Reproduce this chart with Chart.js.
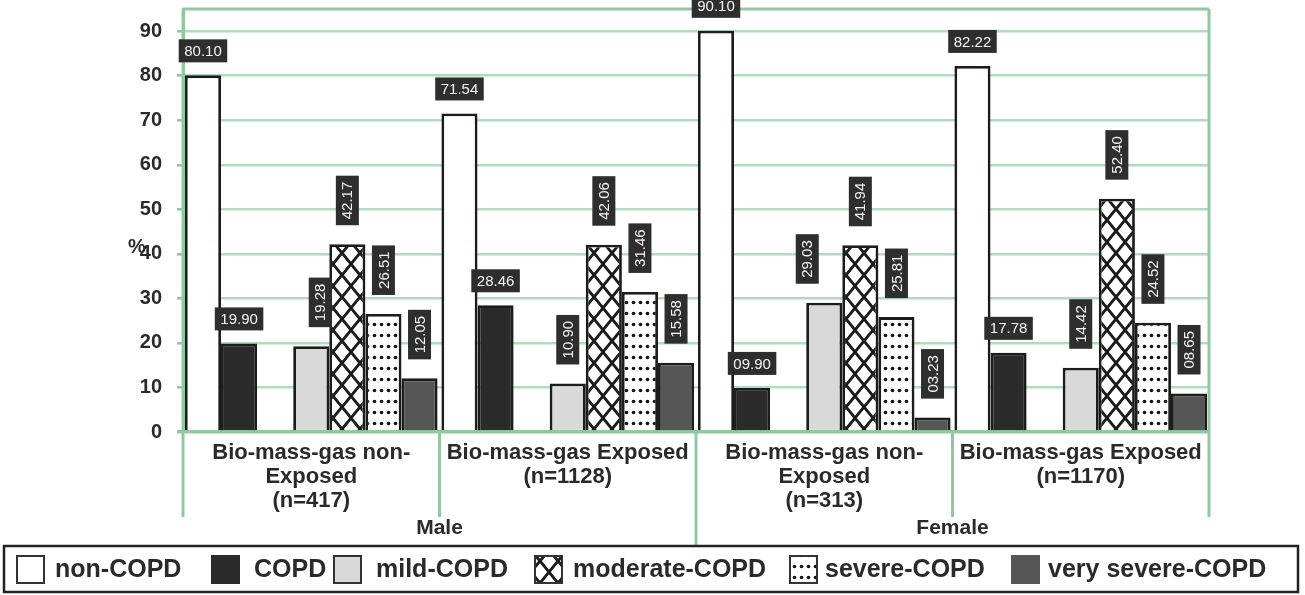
<!DOCTYPE html>
<html>
<head>
<meta charset="utf-8">
<script src="https://cdn.jsdelivr.net/npm/chart.js@4.4.1/dist/chart.umd.min.js"></script>
<style>
  html, body { margin: 0; padding: 0; background: #ffffff; }
  #wrap { width: 1305px; height: 595px; }
</style>
</head>
<body>
<div id="wrap"><canvas id="c" width="1305" height="595"></canvas></div>
<script>
// ---------- data ----------
const categories = [
  ['Bio-mass-gas non-', 'Exposed', '(n=417)'],
  ['Bio-mass-gas Exposed', '(n=1128)'],
  ['Bio-mass-gas non-', 'Exposed', '(n=313)'],
  ['Bio-mass-gas Exposed', '(n=1170)']
];
const groups = ['Male', 'Female'];
const seriesNames = ['non-COPD', 'COPD', 'mild-COPD', 'moderate-COPD', 'severe-COPD', 'very severe-COPD'];
const nonCOPD    = [80.10, 71.54, 90.10, 82.22];
const copd       = [19.90, 28.46, 9.90, 17.78];
const mildCOPD   = [19.28, 10.90, 29.03, 14.42];
const moderateCOPD = [42.17, 42.06, 41.94, 52.40];
const severeCOPD = [26.51, 31.46, 25.81, 24.52];
const verySevereCOPD = [12.05, 15.58, 3.23, 8.65];
const yTickValues = [0, 10, 20, 30, 40, 50, 60, 70, 80, 90];
const yAxisTitle = '%';

// ---------- styles ----------
const FONT = '"Liberation Sans", Arial, Helvetica, sans-serif';
const gridColor = '#b2dbbd';
const frameColor = '#92c8a0';
const inkColor = '#2a2a2a';
const barBorder = '#1c1c1c';

const canvas = document.getElementById('c');
const ctx0 = canvas.getContext('2d');

function crossPattern() {
  const W = 18, H = 22;
  const c = document.createElement('canvas');
  c.width = W; c.height = H;
  const g = c.getContext('2d');
  g.fillStyle = '#ffffff';
  g.fillRect(0, 0, W, H);
  g.strokeStyle = barBorder;
  g.lineWidth = 2.8;
  for (const dx of [-W, 0, W]) {
    for (const dy of [-H, 0, H]) {
      g.beginPath();
      g.moveTo(dx + 0, dy + H / 2);
      g.lineTo(dx + W / 2, dy + 0);
      g.lineTo(dx + W, dy + H / 2);
      g.lineTo(dx + W / 2, dy + H);
      g.closePath();
      g.stroke();
    }
  }
  return ctx0.createPattern(c, 'repeat');
}
function dotPattern() {
  const W = 7, H = 11;
  const c = document.createElement('canvas');
  c.width = W; c.height = H;
  const g = c.getContext('2d');
  g.fillStyle = '#ffffff';
  g.fillRect(0, 0, W, H);
  g.fillStyle = '#111111';
  g.beginPath();
  g.arc(3.5, 5.5, 1.8, 0, Math.PI * 2);
  g.fill();
  return ctx0.createPattern(c, 'repeat');
}

const fills = ['#ffffff', '#2b2b2b', '#d9d9d9', crossPattern(), dotPattern(), '#565656'];
const seriesValues = [nonCOPD, copd, mildCOPD, moderateCOPD, severeCOPD, verySevereCOPD];

const datasets = [];
seriesValues.forEach((vals, i) => {
  if (i === 2) {
    // empty slot that leaves the gap between COPD and mild-COPD
    datasets.push({ label: '', data: categories.map(() => null), spacer: true,
      backgroundColor: 'rgba(0,0,0,0)', borderWidth: 0 });
  }
  datasets.push({
    label: seriesNames[i],
    data: vals,
    backgroundColor: fills[i],
    borderColor: barBorder,
    borderWidth: 2.8,
    rotateLabel: i >= 2,
    seriesIndex: i
  });
});

function fmt(v) { return v.toFixed(2).padStart(5, '0'); }

const labelNudge = { '2-0': 9, '2-2': -17 };

const decorPlugin = {
  id: 'decor',
  beforeDatasetsDraw(chart) {
    const { ctx, chartArea: a } = chart;
    ctx.save();
    ctx.strokeStyle = frameColor;
    ctx.lineWidth = 3;
    const step = (a.right - a.left) / categories.length;
    ctx.beginPath(); ctx.moveTo(a.left, a.top); ctx.lineTo(a.right, a.top); ctx.stroke();
    for (let k = 0; k <= categories.length; k++) {
      const px = a.left + k * step;
      const top = (k === 0 || k === categories.length) ? a.top : a.bottom;
      const bottom = (k === categories.length / 2) ? a.bottom + 114 : a.bottom + 85;
      ctx.beginPath(); ctx.moveTo(px, top); ctx.lineTo(px, bottom); ctx.stroke();
    }
    ctx.restore();
  },
  afterDatasetsDraw(chart) {
    const { ctx } = chart;
    ctx.save();
    ctx.font = '15px ' + FONT;
    chart.data.datasets.forEach((ds, di) => {
      if (ds.spacer) return;
      const meta = chart.getDatasetMeta(di);
      meta.data.forEach((bar, j) => {
        const v = ds.data[j];
        if (v == null) return;
        const txt = fmt(v);
        const tw = ctx.measureText(txt).width;
        const nudge = labelNudge[ds.seriesIndex + '-' + j] || 0;
        const cx = bar.x + nudge;
        ctx.fillStyle = '#2e2e2e';
        if (ds.rotateLabel) {
          const bw = 23, bh = tw + 12;
          const bottom = bar.y - 19;
          ctx.fillRect(cx - bw / 2, bottom - bh, bw, bh);
          ctx.save();
          ctx.translate(cx, bottom - bh / 2);
          ctx.rotate(-Math.PI / 2);
          ctx.fillStyle = '#f4f4f4';
          ctx.textAlign = 'center';
          ctx.textBaseline = 'middle';
          ctx.fillText(txt, 0, 1);
          ctx.restore();
        } else {
          const bw = tw + 11, bh = 23;
          const bottom = bar.y - 13;
          ctx.fillRect(cx - bw / 2, bottom - bh, bw, bh);
          ctx.fillStyle = '#f4f4f4';
          ctx.textAlign = 'center';
          ctx.textBaseline = 'middle';
          ctx.fillText(txt, cx, bottom - bh / 2 + 1);
        }
      });
    });
    ctx.restore();
  },
  afterDraw(chart) {
    const { ctx, chartArea: a, scales: { x, y } } = chart;
    ctx.save();
    ctx.fillStyle = inkColor;
    ctx.textAlign = 'center';
    ctx.textBaseline = 'middle';
    ctx.font = 'bold 22px ' + FONT;
    categories.forEach((lines, i) => {
      const cx = x.getPixelForValue(i);
      lines.forEach((t, k) => ctx.fillText(t, cx, a.bottom + 21 + k * 24));
    });
    ctx.font = 'bold 21px ' + FONT;
    const step = (a.right - a.left) / categories.length;
    groups.forEach((g, gi) => {
      const gx = a.left + (gi * 2 + 1) * step;
      ctx.fillText(g, gx, a.bottom + 96);
    });
    ctx.font = 'bold 20px ' + FONT;
    ctx.fillText(yAxisTitle, 137, y.getPixelForValue(40) - 6);

    ctx.strokeStyle = '#222222';
    ctx.lineWidth = 2.5;
    ctx.strokeRect(4, 546, 1294, 46);
    const boxX = [17, 212, 334, 535, 790, 1012];
    const textX = [55, 254, 376, 573, 825, 1048];
    ctx.textAlign = 'left';
    ctx.font = 'bold 25px ' + FONT;
    seriesNames.forEach((name, i) => {
      const bx = boxX[i], by = 556, bs = 27;
      ctx.fillStyle = fills[i];
      ctx.fillRect(bx, by, bs, bs);
      ctx.lineWidth = 2;
      ctx.strokeStyle = (i === 1 || i === 5) ? fills[i] : '#333333';
      ctx.strokeRect(bx, by, bs, bs);
      ctx.fillStyle = inkColor;
      ctx.fillText(name, textX[i], 570);
    });
    ctx.restore();
  }
};

new Chart(canvas, {
  type: 'bar',
  data: {
    labels: categories.map(l => l.join(' ')),
    datasets: datasets
  },
  options: {
    responsive: false,
    animation: false,
    devicePixelRatio: 1,
    layout: { padding: { top: 9, right: 96, left: 0, bottom: 0 } },
    datasets: { bar: { categoryPercentage: 0.985, barPercentage: 1.0 } },
    plugins: { legend: { display: false }, tooltip: { enabled: false } },
    scales: {
      x: {
        ticks: { display: false },
        grid: { display: false },
        border: { display: false },
        afterFit: s => { s.height = 163; s.paddingLeft = 0; s.paddingRight = 0; }
      },
      y: {
        min: 0,
        max: 95,
        afterBuildTicks: s => { s.ticks = yTickValues.map(v => ({ value: v })); },
        afterFit: s => { s.width = 183; s.paddingTop = 0; s.paddingBottom = 0; },
        grid: {
          color: c => (c.tick && c.tick.value === 0) ? frameColor : gridColor,
          lineWidth: c => (c.tick && c.tick.value === 0) ? 3.5 : 2.6,
          tickColor: frameColor,
          tickLength: 6,
          drawTicks: true
        },
        border: { display: true, color: frameColor, width: 3 },
        ticks: {
          font: { family: FONT, size: 20, weight: 'bold' },
          color: inkColor,
          padding: 15
        }
      }
    }
  },
  plugins: [decorPlugin]
});
</script>
</body>
</html>
